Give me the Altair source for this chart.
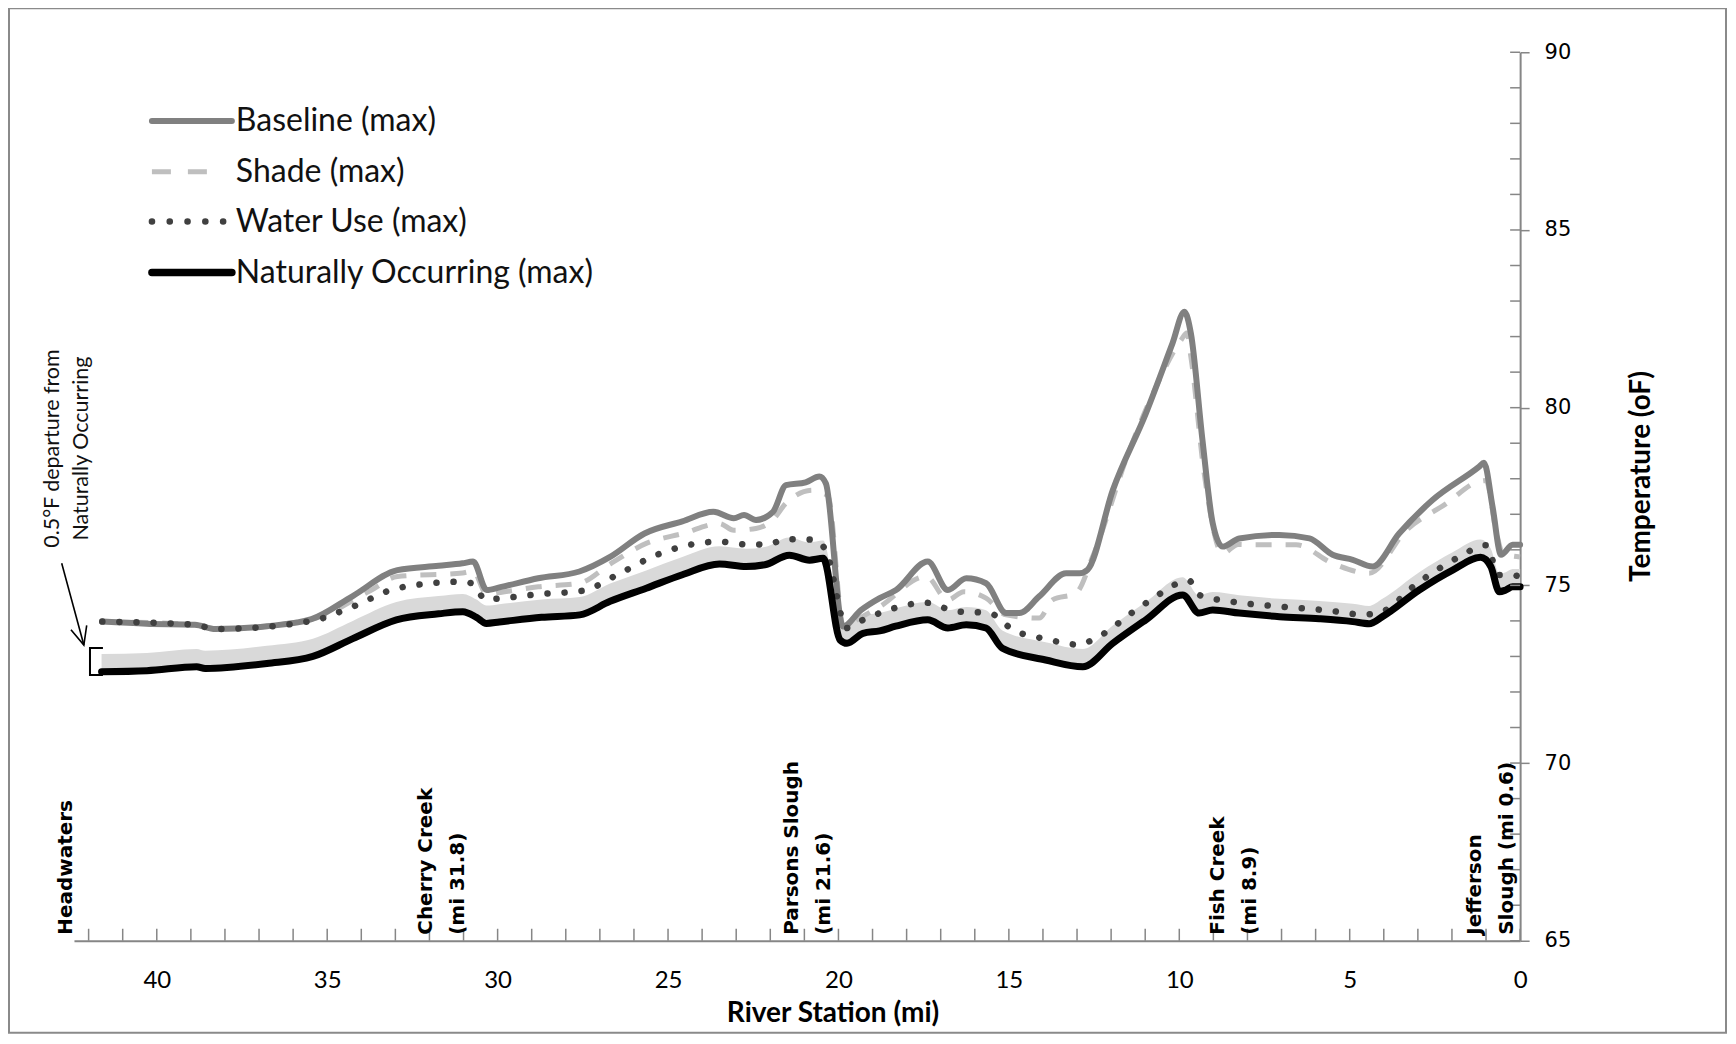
import altair as alt
import pandas as pd

# ---------------- data ----------------
baseline_mile = [41.6, 40.3, 38.88, 38.28, 36.77, 35.46, 34.25, 32.94, 31.73, 31.03, 30.72, 30.32,
                 29.92, 28.81, 27.6, 26.7, 25.69, 24.58, 23.67, 23.07, 22.77, 22.42, 21.92, 21.54,
                 20.96, 20.56, 20.37, 19.87, 19.34, 18.79, 18.31, 17.38, 16.79, 16.25, 15.67, 15.08,
                 14.69, 14.11, 13.32, 12.93, 12.69, 11.95, 10.98, 10.2, 9.85, 9.66, 9.32, 9.02,
                 8.73, 8.24, 7.06, 6.18, 5.5, 4.91, 4.33, 3.55, 2.57, 1.2, 1.06, 0.81, 0.56, 0.22, 0.0]
baseline_temp = [73.98, 73.92, 73.89, 73.77, 73.85, 74.05, 74.7, 75.43, 75.55, 75.62, 75.67, 74.87,
                 74.95, 75.2, 75.39, 75.8, 76.46, 76.8, 77.07, 76.89, 76.98, 76.84, 77.07, 77.82,
                 77.9, 78.06, 77.87, 73.84, 74.3, 74.64, 74.87, 75.67, 74.87, 75.2, 75.06, 74.22,
                 74.22, 74.69, 75.34, 75.34, 75.44, 77.68, 79.84, 81.81, 82.70, 82.09, 79.09, 76.75,
                 76.09, 76.32, 76.42, 76.32, 75.86, 75.72, 75.53, 76.46, 77.40, 78.34, 78.45, 77.22,
                 75.86, 76.14, 76.14]

shade_mile = [41.6, 38.88, 38.28, 35.46, 33.74, 32.94, 31.03, 30.72, 30.32, 29.92, 28.81, 27.6,
              26.7, 25.64, 24.56, 23.49, 23.07, 22.42, 21.92, 21.54, 20.76, 20.45, 20.3, 19.85,
              19.34, 18.79, 17.43, 16.79, 16.32, 15.67, 15.08, 14.11, 13.72, 13.03, 12.54, 11.46,
              10.68, 9.95, 9.78, 9.66, 9.27, 8.73, 8.27, 7.84, 6.57, 5.5, 4.43, 3.34, 2.17, 1.25,
              1.0, 0.71, 0.51, 0.0]
shade_temp = [73.98, 73.89, 73.77, 74.05, 74.85, 75.25, 75.35, 75.4, 74.75, 74.8, 74.96, 75.06,
              75.6, 76.18, 76.46, 76.74, 76.55, 76.6, 76.85, 77.31, 77.68, 77.59, 77.5, 73.84,
              74.1, 74.4, 75.25, 74.59, 74.82, 74.64, 74.17, 74.08, 74.59, 74.78, 75.81, 78.81,
              80.59, 81.9, 82.1, 81.43, 78.15, 75.9, 76.15, 76.14, 76.14, 75.62, 75.34, 76.55,
              77.3, 77.91, 77.95, 76.55, 75.9, 75.8]

wateruse_mile = [41.6, 38.88, 38.28, 35.46, 34.25, 32.94, 31.13, 30.72, 30.37, 28.81, 27.5, 26.39,
                 25.35, 23.49, 22.67, 22.02, 21.58, 20.66, 20.35, 19.75, 19.34, 18.79, 17.43, 16.55,
                 15.57, 14.88, 13.92, 12.93, 12.54, 10.98, 9.71, 9.42, 8.44, 7.02, 5.6, 4.62, 4.14,
                 2.96, 1.79, 1.0, 0.62, 0.27, 0.0]
wateruse_temp = [73.98, 73.89, 73.77, 74.0, 74.4, 74.92, 75.1, 75.05, 74.61, 74.75, 74.85, 75.35,
                 75.85, 76.23, 76.15, 76.16, 76.3, 76.28, 75.93, 73.8, 74.0, 74.22, 74.51, 74.27,
                 74.22, 73.75, 73.49, 73.33, 73.47, 74.5, 75.13, 74.73, 74.54, 74.4, 74.29, 74.18,
                 74.23, 75.1, 75.8, 76.13, 75.29, 75.29, 75.25]

natural_mile = [41.62, 40.29, 38.83, 38.58, 36.77, 35.42, 34.25, 32.97, 31.73, 31.02, 30.62, 30.33,
                29.95, 28.71, 27.59, 26.7, 25.64, 24.58, 23.49, 22.71, 22.16, 21.44, 20.85, 20.45,
                19.95, 19.75, 19.28, 18.79, 18.32, 17.38, 16.79, 16.25, 15.67, 15.19, 13.92, 12.83,
                11.95, 10.98, 9.9, 9.42, 9.02, 8.24, 7.06, 5.89, 4.91, 4.43, 4.04, 2.96, 1.98, 1.16,
                0.86, 0.61, 0.42, 0.22, 0.0]
natural_temp = [72.57, 72.6, 72.71, 72.66, 72.8, 73.0, 73.5, 74.03, 74.2, 74.26, 74.1, 73.93,
                73.97, 74.1, 74.17, 74.55, 74.92, 75.3, 75.60, 75.53, 75.58, 75.85, 75.71, 75.76,
                73.46, 73.37, 73.65, 73.72, 73.85, 74.03, 73.8, 73.89, 73.8, 73.23, 72.9, 72.71,
                73.37, 74.03, 74.73, 74.22, 74.31, 74.22, 74.12, 74.06, 73.98, 73.92, 74.12, 74.87,
                75.43, 75.79, 75.53, 74.82, 74.87, 74.96, 74.96]

departure = 0.5

legend_names = ["Baseline (max)", "Shade (max)", "Water Use (max)", "Naturally Occurring (max)"]

station_labels = ["Headwaters", "Cherry Creek\n(mi 31.8)", "Parsons Slough\n(mi 21.6)",
                  "Fish Creek\n(mi 8.9)", "Jefferson\nSlough (mi 0.6)"]
station_label_mile = [42.67, 32.1, 21.36, 8.86, 1.32]

x_label_values = [0, 5, 10, 15, 20, 25, 30, 35, 40]
y_label_values = [65, 70, 75, 80, 85, 90]
x_minor_ticks = [0, 1, 2, 3, 4, 5, 6, 7, 8, 9, 10, 11, 12, 13, 14, 15, 16, 17, 18, 19, 20, 21,
                 22, 23, 24, 25, 26, 27, 28, 29, 30, 31, 32, 33, 34, 35, 36, 37, 38, 39, 40, 41, 42]
y_minor_ticks = [65, 66, 67, 68, 69, 70, 71, 72, 73, 74, 75, 76, 77, 78, 79, 80, 81, 82, 83, 84,
                 85, 86, 87, 88, 89, 90]

annotation_text = "0.5°F departure from\nNaturally Occurring"
arrow_mile = [42.79, 42.14]
arrow_temp = [75.62, 73.32]
bracket_mile = [41.58, 41.96, 41.96, 41.58]
bracket_temp = [73.24, 73.24, 72.48, 72.48]

# ---------------- chart ----------------
W, H = 1447, 889
AXC = "#868686"

xscale = alt.Scale(domain=[0, 42.43], reverse=True, nice=False, zero=False)
yscale = alt.Scale(domain=[65, 90], nice=False, zero=False)

x_axis = alt.Axis(values=x_label_values, title="River Station (mi)", titleFont="Lato",
                  titleFontSize=28, titleFontWeight="bold", titleColor="#000", titleX=759,
                  titleY=73, titleAlign="center", titleBaseline="middle", labelFont="Lato",
                  labelFontSize=24, labelColor="#000", labelPadding=28, labelFlush=False,
                  ticks=False, tickSize=0, domainColor=AXC, domainWidth=2, grid=False, format="d")
y_axis = alt.Axis(orient="right", values=y_label_values, title="Temperature (oF)",
                  titleAngle=270, titleX=121, titleY=424, titleAlign="center",
                  titleBaseline="middle", titleFont="Lato", titleFontSize=28,
                  titleFontWeight="bold", titleColor="#000", labelFont="DejaVu Sans",
                  labelFontSize=21, labelColor="#000", labelPadding=15, labelFlush=False,
                  tickSize=9, tickColor=AXC, tickWidth=1.5, domainColor=AXC, domainWidth=2,
                  grid=False, format="d")

X = alt.X("mile:Q", scale=xscale, axis=x_axis)
Y = alt.Y("temp:Q", scale=yscale, axis=y_axis)


def sdf(m, t):
    return pd.DataFrame({"mile": m, "temp": t})


layers = []

# frame
layers.append(alt.Chart(pd.DataFrame({"f": [0]})).mark_rect(
    fillOpacity=0, stroke="#8a8a8a", strokeWidth=2).encode(
    x=alt.value(-65), x2=alt.value(W + 206), y=alt.value(-44), y2=alt.value(H + 92)))

# 0.5 F departure band
layers.append(alt.Chart(sdf(natural_mile, natural_temp)).transform_calculate(
    upper=f"datum.temp + {departure}").mark_area(
    color="#d9d9d9", interpolate="monotone").encode(x=X, y=Y, y2="upper:Q"))

# series
layers.append(alt.Chart(sdf(shade_mile, shade_temp)).mark_line(
    color="#bfbfbf", strokeWidth=5, strokeDash=[16, 14], strokeCap="butt",
    interpolate="monotone").encode(x=X, y=Y))
layers.append(alt.Chart(sdf(baseline_mile, baseline_temp)).mark_line(
    color="#808080", strokeWidth=6, strokeCap="round", strokeJoin="round",
    interpolate="monotone").encode(x=X, y=Y))
layers.append(alt.Chart(sdf(wateruse_mile, wateruse_temp)).mark_line(
    color="#404040", strokeWidth=6.5, strokeDash=[0.1, 17], strokeCap="round",
    interpolate="monotone").encode(x=X, y=Y))
layers.append(alt.Chart(sdf(natural_mile, natural_temp)).mark_line(
    color="#000000", strokeWidth=7, strokeCap="round", strokeJoin="round",
    interpolate="monotone").encode(x=X, y=Y))

# inward ticks
layers.append(alt.Chart(pd.DataFrame({"mile": x_minor_ticks})).mark_rule(
    color=AXC, strokeWidth=1.5).encode(x=X, y=alt.value(H), y2=alt.value(H - 12)))
layers.append(alt.Chart(pd.DataFrame({"temp": y_minor_ticks})).mark_rule(
    color=AXC, strokeWidth=1.5).encode(y=Y, x=alt.value(W - 10), x2=alt.value(W)))

# station labels
layers.append(alt.Chart(pd.DataFrame({"mile": station_label_mile, "label": station_labels})).mark_text(
    angle=270, align="left", baseline="middle", font="DejaVu Sans", fontWeight="bold",
    fontSize=20, lineHeight=32, lineBreak="\n", dx=6, color="#000").encode(
    x=X, y=alt.value(H), text="label:N"))

# annotation: text, arrow, bracket
layers.append(alt.Chart(pd.DataFrame({"t": [annotation_text]})).mark_text(
    angle=270, align="center", baseline="middle", font="Lato", fontWeight="normal", fontSize=21.5,
    lineHeight=29, lineBreak="\n", color="#111").encode(
    x=alt.value(-21), y=alt.value(396.5), text="t:N"))
arrow_df = pd.DataFrame({"mile": [arrow_mile[0]], "temp": [arrow_temp[0]],
                         "mile2": [arrow_mile[1]], "temp2": [arrow_temp[1]]})
layers.append(alt.Chart(arrow_df).mark_rule(color="#000", strokeWidth=1.6).encode(
    x=X, y=Y, x2="mile2:Q", y2="temp2:Q"))
layers.append(alt.Chart(sdf([arrow_mile[1]], [arrow_temp[1]])).mark_point(
    shape="M -0.45 -1 L 0 0 L 0.45 -1", filled=False, size=1325, angle=344, strokeWidth=1.6,
    color="#000", opacity=1).encode(x=X, y=Y))
bracket_df = pd.DataFrame({"mile": bracket_mile, "temp": bracket_temp, "i": [0, 1, 2, 3]})
layers.append(alt.Chart(bracket_df).mark_line(color="#000", strokeWidth=2).encode(
    x=X, y=Y, order="i:Q"))

# legend
legend_y = [68.7, 119.6, 169.4, 220.4]
legend_styles = [
    dict(color="#808080", strokeWidth=6, strokeCap="round", end=158),
    dict(color="#bfbfbf", strokeWidth=5, strokeDash=[19, 17], strokeCap="butt", end=140),
    dict(color="#404040", strokeWidth=6.5, strokeDash=[0.1, 17.7], strokeCap="round", end=150),
    dict(color="#000000", strokeWidth=7.5, strokeCap="round", end=158),
]
for name, ly, st in zip(legend_names, legend_y, legend_styles):
    st = dict(st)
    end = st.pop("end")
    d = pd.DataFrame({"name": [name]})
    layers.append(alt.Chart(d).mark_rule(**st).encode(
        x=alt.value(78), x2=alt.value(end), y=alt.value(ly)))
    layers.append(alt.Chart(d).mark_text(
        align="left", baseline="middle", font="Lato", fontSize=32, color="#111").encode(
        x=alt.value(162), y=alt.value(ly), text="name:N"))

chart = alt.layer(*layers).properties(
    width=W, height=H,
    background="white",
    autosize=alt.AutoSizeParams(type="none"),
    padding={"left": 66, "top": 44, "right": 208, "bottom": 93},
).configure_view(stroke=None)

chart.save("out.html", embed_options={"renderer": "svg", "actions": False})
